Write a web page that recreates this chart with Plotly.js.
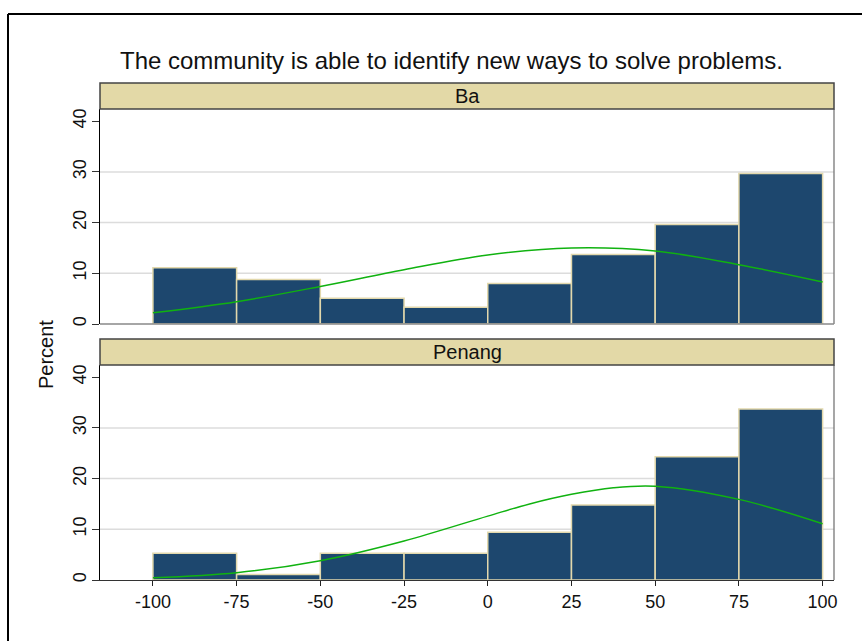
<!DOCTYPE html>
<html>
<head>
<meta charset="utf-8">
<script src="https://cdn.plot.ly/plotly-3.0.1.min.js"></script>
<style>
html,body{margin:0;padding:0;background:#fff;}
#chart{width:862px;height:641px;}
</style>
</head>
<body>
<div id="chart"></div>
<script>
// ---- data ----
var titleText = "The community is able to identify new ways to solve problems.";
var panelNames = ["Ba", "Penang"];
var binStarts = [-100, -75, -50, -25, 0, 25, 50, 75];
var binWidth = 25;
var baPercent = [11.1, 8.8, 5.1, 3.3, 8.0, 13.7, 19.6, 29.7];
var penangPercent = [5.3, 1.1, 5.3, 5.3, 9.4, 14.8, 24.3, 33.7];
var baCurveX = [-100, -75, -50, -25, 0, 25, 50, 75, 100];
var baCurve = [2.2, 4.4, 7.4, 10.7, 13.6, 15.0, 14.4, 11.7, 8.3];
var penangCurveX = [-100, -75, -50, -25, 0, 12.5, 25, 37.5, 50, 75, 100];
var penangCurve = [0.45, 1.44, 3.8, 7.7, 12.6, 15.0, 16.9, 18.2, 18.5, 15.9, 11.1];
var xTicks = [-100, -75, -50, -25, 0, 25, 50, 75, 100];
var yTicks = [0, 10, 20, 30, 40];
var gridVals = [10, 20, 30];
var yLabel = "Percent";

// ---- layout constants (pixels -> paper) ----
var W = 862, H = 641;
function px(x){ return x / W; }
function py(y){ return (H - y) / H; }
var xL = 100, xR = 834;
var panels = [
  {stripTop: 83, stripBot: 109, axisBot: 324},
  {stripTop: 339, stripBot: 365, axisBot: 580}
];
var barFill = "rgb(29,71,110)";
var barLine = "rgb(226,216,172)";
var curveColor = "rgb(16,178,16)";
var stripFill = "rgb(227,217,167)";
var fontFam = "Liberation Sans, Arial, sans-serif";

var centers = binStarts.map(function(s){ return s + binWidth / 2; });
var widths = binStarts.map(function(){ return binWidth; });

var seriesBars = [baPercent, penangPercent];
var seriesCurveX = [baCurveX, penangCurveX];
var seriesCurves = [baCurve, penangCurve];
var traces = [];
for (var i = 0; i < 2; i++) {
  var xa = i === 0 ? "x" : "x2", ya = i === 0 ? "y" : "y2";
  traces.push({
    type: "bar", x: centers, y: seriesBars[i], width: widths,
    xaxis: xa, yaxis: ya,
    marker: {color: barFill, line: {color: barLine, width: 1.5}},
    hoverinfo: "skip", showlegend: false
  });
  traces.push({
    type: "scatter", mode: "lines", x: seriesCurveX[i], y: seriesCurves[i],
    xaxis: xa, yaxis: ya,
    line: {color: curveColor, width: 1.5, shape: "spline", smoothing: 1},
    hoverinfo: "skip", showlegend: false
  });
}

var xRange = [-115.8, 103.4];
var yRange = [0, 42.4];

function yAxisDef(p){
  return {
    domain: [py(p.axisBot), py(p.stripBot)],
    range: yRange, tickvals: yTicks, ticktext: yTicks.map(String),
    tickangle: -90, ticks: "outside", ticklen: 7, tickwidth: 1, tickcolor: "#333",
    ticklabelstandoff: -1,
    showgrid: false, zeroline: false,
    showline: true, linecolor: "#000", linewidth: 1.3,
    tickfont: {family: fontFam, size: 18, color: "#111"},
    fixedrange: true
  };
}

var shapes = [];
var annotations = [];
for (var k = 0; k < 2; k++) {
  var p = panels[k];
  var yref = k === 0 ? "y" : "y2";
  var xref = k === 0 ? "x domain" : "x2 domain";
  gridVals.forEach(function(g){
    shapes.push({type: "line", xref: xref, yref: yref, x0: 0, x1: 1, y0: g, y1: g,
      line: {color: "#DCDCDC", width: 1.5}, layer: "below"});
  });
  // right border of panel
  shapes.push({type: "line", xref: "paper", yref: "paper",
    x0: px(xR), x1: px(xR), y0: py(p.axisBot), y1: py(p.stripBot),
    line: {color: "#777", width: 1.3}});
  // strip
  shapes.push({type: "rect", xref: "paper", yref: "paper",
    x0: px(xL), x1: px(xR), y0: py(p.stripBot), y1: py(p.stripTop),
    fillcolor: stripFill, line: {color: "#444", width: 1.5}});
  annotations.push({xref: "paper", yref: "paper",
    x: px((xL + xR) / 2), y: py((p.stripTop + p.stripBot) / 2),
    xanchor: "center", yanchor: "middle", showarrow: false,
    text: panelNames[k], font: {family: fontFam, size: 20, color: "#111"}});
}
// top panel bottom line (grey)
shapes.push({type: "line", xref: "paper", yref: "paper",
  x0: px(xL), x1: px(xR), y0: py(panels[0].axisBot), y1: py(panels[0].axisBot),
  line: {color: "#888", width: 1.3}});
// outer frame (left and top)
shapes.push({type: "line", xref: "paper", yref: "paper",
  x0: px(8), x1: px(8), y0: 0, y1: py(14), line: {color: "#000", width: 2}});
shapes.push({type: "line", xref: "paper", yref: "paper",
  x0: px(8), x1: 1, y0: py(14), y1: py(14), line: {color: "#000", width: 2}});

annotations.push({xref: "paper", yref: "paper", x: px(451), y: py(60),
  xanchor: "center", yanchor: "middle", showarrow: false,
  text: titleText, font: {family: fontFam, size: 24, color: "#111"}});
annotations.push({xref: "paper", yref: "paper", x: px(46), y: py(355),
  xanchor: "center", yanchor: "middle", showarrow: false, textangle: -90,
  text: yLabel, font: {family: fontFam, size: 20, color: "#111"}});

var layout = {
  width: W, height: H,
  margin: {l: 0, r: 0, t: 0, b: 0, pad: 0},
  paper_bgcolor: "#fff", plot_bgcolor: "#fff",
  bargap: 0, barmode: "overlay",
  showlegend: false,
  xaxis: {
    domain: [px(xL), px(xR)], range: xRange, anchor: "y",
    showticklabels: false, ticks: "", showgrid: false, zeroline: false,
    showline: false, fixedrange: true
  },
  xaxis2: {
    domain: [px(xL), px(xR)], range: xRange, anchor: "y2",
    tickvals: xTicks, ticktext: xTicks.map(String),
    ticks: "outside", ticklen: 5, tickwidth: 1, tickcolor: "#222",
    showgrid: false, zeroline: false,
    showline: true, linecolor: "#333", linewidth: 1.3,
    tickfont: {family: fontFam, size: 18, color: "#111"},
    fixedrange: true
  },
  yaxis: yAxisDef(panels[0]),
  yaxis2: yAxisDef(panels[1]),
  shapes: shapes,
  annotations: annotations
};
layout.yaxis.anchor = "x";
layout.yaxis2.anchor = "x2";

Plotly.newPlot("chart", traces, layout, {staticPlot: true, displayModeBar: false});
</script>
</body>
</html>
